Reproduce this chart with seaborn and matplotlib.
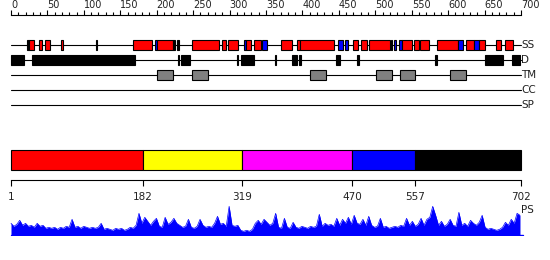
import matplotlib
matplotlib.use("Agg")
import matplotlib.pyplot as plt
import seaborn as sns
import numpy as np
import pandas as pd

# ---------------- data ----------------
track_names = ["SS", "D", "TM", "CC", "SP"]
seq_len = 702

# secondary structure: H = helix (red), E = strand (blue), B = black mark
ss_start = [22, 25, 38, 46, 69, 117, 168, 197, 201, 222, 228, 249, 290, 298, 320, 323, 333, 345,
            371, 392, 396, 397, 449, 458, 469, 480, 491, 522, 526, 533, 537, 553, 561, 585, 614,
            625, 636, 643, 666, 678]
ss_end = [25, 31, 42, 53, 72, 118.5, 193, 201, 222, 225, 230, 286, 295, 312, 323, 330, 343, 352,
          385, 396, 397, 444, 455, 462, 476, 488, 520, 523.5, 529, 537, 551, 560, 574, 614, 621,
          635, 643, 651, 673, 689]
ss_type = ["B", "H", "H", "H", "H", "B", "H", "E", "H", "B", "B", "H", "H", "H", "E", "H", "H", "E",
           "H", "H", "B", "H", "E", "E", "H", "H", "H", "B", "E", "E", "H", "H", "H", "H", "E",
           "H", "E", "H", "H", "H"]

# disorder regions
d_start = [0, 29, 229, 233, 310, 315, 362, 385, 395, 446, 475, 582, 650, 688]
d_end = [18, 170, 230.5, 246, 312, 333, 364, 392, 398, 451, 477, 585, 675, 698.5]

# transmembrane segments
tm_start = [200, 249, 411, 501, 534, 603]
tm_end = [222, 271, 433, 523, 554, 625]

# domain architecture
dom_bounds = [1, 182, 319, 470, 557, 702]
dom_colors = ["#ff0000", "#ffff00", "#ff00ff", "#0000ff", "#000000"]

# PS profile (every 4th residue)
ps_pos = list(range(1, 702, 4))
ps_vals = [12, 9, 11, 15, 10, 12, 9, 10, 8, 12, 9, 10, 7, 8, 7, 8, 6, 8, 7, 9,
           8, 16, 8, 9, 7, 9, 8, 7, 8, 7, 8, 12, 6, 7, 6, 5, 7, 6, 7, 5,
           6, 8, 7, 10, 22, 12, 18, 14, 10, 14, 17, 9, 8, 18, 11, 13, 17, 12, 10, 8,
           9, 16, 8, 7, 9, 16, 10, 8, 9, 8, 12, 19, 11, 12, 9, 29, 10, 9, 10, 5,
           4, 5, 4, 6, 12, 15, 11, 16, 13, 10, 12, 22, 8, 7, 17, 8, 7, 13, 8, 7,
           9, 8, 7, 9, 8, 9, 21, 9, 12, 10, 11, 9, 17, 10, 16, 12, 18, 11, 20, 12,
           11, 16, 10, 19, 10, 8, 9, 17, 8, 9, 7, 8, 9, 8, 10, 9, 17, 10, 14, 9,
           11, 17, 10, 16, 18, 29, 20, 10, 14, 9, 11, 16, 10, 9, 23, 10, 12, 9, 15, 12,
           10, 13, 20, 8, 6, 7, 6, 5, 6, 8, 13, 10, 16, 12, 22, 20]

# ---------------- style ----------------
sns.set_theme(style="white")
plt.rcParams["font.family"] = ["DejaVu Sans"]

W, H = 550, 260
fig = plt.figure(figsize=(W / 100, H / 100), dpi=100)


def px_axes(top, bottom):
    return fig.add_axes([0, 1 - bottom / H, 1, (bottom - top) / H])


k1 = 510 / 700.0
xlim1 = (-11 / k1, (W - 11) / k1)
k2 = (520.7 - 11) / 701.0
xlim2 = (1 - 11 / k2, 1 + (W - 11) / k2)

# ---------------- tracks + ruler ----------------
axA = px_axes(15, 115)
axA.set_xlim(*xlim1)
axA.set_ylim((115 - 45) / 15.0, (15 - 45) / 15.0)
for s in ["left", "right", "bottom"]:
    axA.spines[s].set_visible(False)
axA.spines["top"].set_visible(True)
axA.spines["top"].set_color("black")
axA.spines["top"].set_linewidth(0.8)
axA.spines["top"].set_bounds(0, 700)
axA.xaxis.tick_top()
axA.set_xticks(np.arange(0, 701, 50))
axA.set_xticks(np.arange(0, 701, 10), minor=True)
axA.set_xticklabels([str(v) for v in range(0, 701, 50)], fontsize=7.0, color="#222222")
axA.tick_params(axis="x", which="major", direction="out", length=3.5, width=0.8, pad=0.3,
                top=True, bottom=False, colors="black", labelcolor="#222222")
axA.tick_params(axis="x", which="minor", direction="out", length=2.5, width=0.8,
                top=True, bottom=False, colors="black")
for lab in axA.get_xticklabels():
    lab.set_horizontalalignment("left")
axA.set_yticks([])

bar_h = 10 / 15.0
for i, name in enumerate(track_names):
    axA.plot([0, 700], [i, i], color="black", lw=0.8, zorder=1)
    axA.text(700.5, i, name, ha="left", va="center", fontsize=7.5, color="#222222")

ss_colors = {"H": "#ff0000", "E": "#0000ff", "B": "#000000"}
ss_df = pd.DataFrame({"start": ss_start, "end": ss_end, "type": ss_type})
axA.barh(np.zeros(len(ss_df)), ss_df["end"] - ss_df["start"], left=ss_df["start"], height=bar_h,
         color=[ss_colors[t] for t in ss_df["type"]], edgecolor="black", linewidth=0.8, zorder=2)
axA.barh(np.ones(len(d_start)), np.array(d_end) - np.array(d_start), left=d_start, height=bar_h,
         color="black", edgecolor="black", linewidth=0.8, zorder=2)
axA.barh(np.full(len(tm_start), 2), np.array(tm_end) - np.array(tm_start), left=tm_start,
         height=bar_h, color="#808080", edgecolor="black", linewidth=0.8, zorder=2)

# ---------------- domain bar ----------------
axB = px_axes(145, 180)
axB.set_xlim(*xlim2)
axB.set_ylim(-1.0, 0.75)
starts = dom_bounds[:-1]
widths = np.diff(dom_bounds)
axB.barh(np.zeros(len(starts)), widths, left=starts, height=1.0, color=dom_colors,
         edgecolor="black", linewidth=0.8)
for s in ["left", "right", "top"]:
    axB.spines[s].set_visible(False)
axB.spines["bottom"].set_visible(True)
axB.spines["bottom"].set_color("black")
axB.spines["bottom"].set_linewidth(0.8)
axB.spines["bottom"].set_bounds(1, 702)
axB.set_xticks(dom_bounds)
axB.set_xticklabels([str(v) for v in dom_bounds], fontsize=7.5)
axB.tick_params(axis="x", direction="out", length=4, width=0.8, pad=4.5, bottom=True,
                colors="black", labelcolor="#222222")
axB.set_yticks([])

# ---------------- PS profile ----------------
axC = px_axes(200, 236)
axC.set_xlim(*xlim2)
axC.set_ylim(-0.7, 35.3)
axC.fill_between(ps_pos, 0, ps_vals, color="#0000ff", lw=0)
sns.lineplot(x=ps_pos, y=ps_vals, color="#0000ff", lw=0.5, ax=axC)
axC.plot([1, 705], [0, 0], color="#0000ff", lw=1.0)
axC.text(703, 25.3, "PS", ha="left", va="center", fontsize=7.5, color="#222222")
axC.set_axis_off()

fig.savefig("out.png", dpi=100)
